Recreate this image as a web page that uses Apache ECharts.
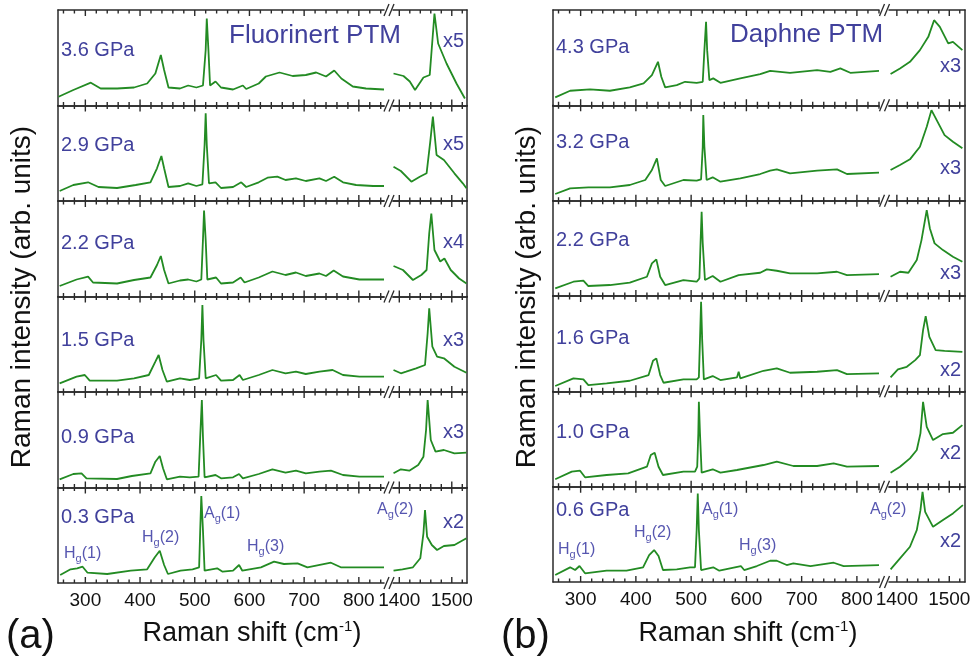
<!DOCTYPE html>
<html>
<head>
<meta charset="utf-8">
<title>Raman spectra under pressure</title>
<script src="https://cdn.jsdelivr.net/npm/echarts@6/dist/echarts.min.js"></script>
<style>
  html, body { margin: 0; padding: 0; background: #fff; }
  #chart { width: 976px; height: 668px; }
</style>
</head>
<body>
<div id="chart"></div>
<script>
// ---- data: [Raman shift (cm-1), intensity (arb.)] ----
// panel (a) Fluorinert PTM, top to bottom
var a36Low = [[251,8.8],[278,15.5],[310,22.8],[328,17],[358,17],[389,18],[413,22],[428,32],[438,50.5],[444,35.5],[452,18],[473,17],[488,20],[503,18],[515,20],[520,55.5],[522,87],[525,55.5],[528,20],[538,24],[548,18],[570,16],[588,20],[594,16.5],[617,22],[630,29],[655,33],[679,29.5],[703,30.5],[722,33],[740,29],[755,35],[768,27],[789,19],[813,17],[846,16]];
var a36High = [[1389,32],[1408,29.5],[1420,24],[1430,15.5],[1446,28],[1458,30.5],[1467,92],[1474,62],[1490,42],[1509,22],[1525,7]];
var a29Low = [[253,10],[278,16],[305,18.7],[324,14],[358,13],[392,16],[419,18.7],[431,32.7],[439,45],[444,32.7],[452,14],[473,15],[488,17.7],[503,15],[514,16.7],[518,56],[520,87.7],[522,56],[526,17.7],[538,18.7],[548,13],[570,14],[585,18.7],[594,14],[617,18.7],[633,23.3],[651,24.3],[666,21],[685,22.7],[703,20],[728,22.7],[740,20],[755,24.3],[771,18.7],[795,16],[826,15],[846,15]];
var a29High = [[1389,34.3],[1403,30],[1423,19.3],[1439,24.3],[1452,27.7],[1459,59.3],[1464,84.3],[1471,46],[1485,41],[1505,27.7],[1521,17.7],[1528,12.7]];
var a22Low = [[253,10.5],[284,17],[305,19.8],[314,14],[358,13],[389,16.5],[419,19],[431,31.5],[438,40.5],[444,26.5],[452,13],[473,16],[488,17],[503,15],[512,17],[515,56.5],[517,86],[520,56.5],[523,17],[539,19],[548,13],[570,14],[584,19],[591,14],[617,19],[642,25],[666,21.5],[685,24],[703,20.5],[728,23],[740,20.5],[754,26],[771,20],[801,17],[846,17]];
var a22High = [[1389,30.5],[1407,26.5],[1426,16.5],[1442,21.5],[1452,26.5],[1457,63],[1461,83],[1467,46.5],[1478,35],[1486,38],[1498,26.5],[1514,18],[1528,13]];
var a15Low = [[253,8.7],[284,15.3],[299,17],[308,11.3],[358,11.3],[389,13.7],[416,17],[428,30.3],[434,37],[441,22],[449,10.3],[473,13.7],[491,12],[508,13.7],[512,52],[514,87],[516,52],[520,13.7],[539,17],[548,11.3],[570,12],[582,17],[588,12],[617,17],[642,22],[666,18.7],[685,20.3],[703,18],[728,20.3],[752,22],[771,17],[801,15.3],[846,15.3]];
var a15High = [[1389,22],[1403,18.7],[1413,20.3],[1432,23.7],[1449,27],[1454,58.7],[1457,83.7],[1463,45.3],[1472,35.3],[1485,33.7],[1505,25.3],[1528,19.3]];
var a09Low = [[253,8.2],[278,13.5],[293,14.2],[302,9.2],[358,8.5],[385,11.5],[419,14.2],[428,25.8],[436,31.5],[442,19.2],[449,8.2],[473,10.8],[491,10.2],[507,10.8],[510,50.8],[513,87.5],[515,50.8],[518,10.2],[538,12.5],[548,9.2],[570,10.2],[581,13.5],[588,9.2],[617,13.5],[642,18.2],[666,14.8],[685,16.8],[703,14.2],[728,15.8],[749,16.8],[771,12.5],[801,10.8],[846,10.8]];
var a09High = [[1389,14.2],[1403,18.2],[1419,16.8],[1436,22.5],[1446,30.8],[1451,57.5],[1454,87.5],[1460,47.5],[1469,35.8],[1485,37.5],[1505,34.2],[1528,34.8]];
var a03Low = [[254,8],[273,13.7],[285,14.7],[295,16.3],[304,10.3],[340,9],[383,12.3],[413,13.7],[427,25.7],[436,32.3],[444,18],[451,9],[474,12.3],[496,13.7],[508,15.7],[510,53],[512,87],[515,53],[518,12.3],[541,14.7],[551,11.3],[570,12.3],[581,18],[587,12.3],[621,15.7],[645,21.3],[663,19],[688,19.7],[706,15.7],[749,20.3],[767,15.7],[803,15.7],[846,15.7]];
var a03High = [[1389,12.3],[1406,13.7],[1426,15.7],[1440,24.7],[1446,49.7],[1449,73],[1453,46.3],[1462,38],[1472,33],[1485,37],[1505,38],[1528,44.7]];

// panel (b) Daphne PTM, top to bottom
var b43Low = [[254,8],[281,14.6],[317,16],[353,14.6],[389,18],[414,22],[429,30.3],[440,43.6],[446,28.6],[453,18],[474,20.3],[489,23.6],[510,22.6],[521,23.6],[524,55.3],[527,83.6],[529,55.3],[533,25.3],[540,27],[553,22.6],[589,27],[625,31.3],[643,34.6],[679,32.6],[728,35.3],[752,33.6],[770,37],[788,32.6],[840,34.6]];
var b43High = [[1388,31.3],[1406,37],[1425,43.6],[1444,55.3],[1460,68.6],[1471,85.3],[1482,78.6],[1498,62],[1507,63.6],[1525,55.3]];
var b32Low = [[254,6.7],[281,12.4],[314,13.4],[353,13.4],[389,15.7],[417,20.7],[429,30.7],[438,42.4],[445,20.7],[453,14.7],[486,20.7],[510,20],[518,21.4],[521,54],[522,85.7],[524,54],[528,20.7],[539,23.4],[553,19],[589,22.4],[625,26.7],[643,30],[655,31.4],[679,27.4],[728,30],[764,31.4],[782,26.7],[840,28]];
var b32High = [[1388,30.7],[1406,35.7],[1425,41.4],[1444,54],[1457,74],[1466,90.7],[1476,80.7],[1491,65.7],[1507,59],[1525,52.4]];
var b22Low = [[254,7.7],[287,14.3],[305,15.3],[314,10],[353,11],[389,13.3],[420,19.3],[429,32.7],[437,36.7],[444,19.3],[453,11],[486,16],[510,14.3],[515,17.7],[517,52.7],[519,84.3],[521,52.7],[525,16],[539,20],[553,14.3],[586,21],[625,23.3],[637,26.7],[655,25.3],[679,22.7],[728,22.7],[764,24.3],[782,21],[840,22]];
var b22High = [[1388,19.3],[1406,24.3],[1422,23.3],[1438,36],[1447,56],[1457,86],[1463,67.7],[1472,52.7],[1488,46],[1507,39.3],[1525,34.3]];
var b16Low = [[254,5.3],[287,13],[305,12],[314,6.3],[347,8],[389,10.6],[423,16.3],[431,30.6],[437,33],[444,16.3],[450,8.6],[486,12],[510,12],[514,14],[516,51.3],[518,89.6],[520,51.3],[523,12],[539,15.3],[553,11.3],[583,14],[586,19.6],[589,13],[631,20.6],[655,23],[679,18.6],[728,19.6],[764,21.3],[782,17.3],[840,18]];
var b16High = [[1388,14],[1402,22],[1419,24.6],[1435,31.3],[1444,36.3],[1450,61.3],[1455,75.3],[1462,54.6],[1474,41.3],[1491,40.6],[1525,39.6]];
var b10Low = [[254,7.4],[284,15],[299,16],[308,9.4],[347,11.7],[386,13.4],[420,20],[427,31.7],[434,34],[441,20],[449,11.7],[486,15],[507,15],[511,20],[513,53.4],[514,85],[516,53.4],[519,14],[539,17.4],[553,14],[583,16.7],[631,21.7],[655,25],[685,20.7],[728,20.7],[758,23.4],[782,20],[840,20.7]];
var b10High = [[1388,14],[1406,20],[1425,28.4],[1438,36.7],[1445,53.4],[1450,85],[1457,60],[1469,46.7],[1488,52.7],[1507,54],[1525,61.7]];
var b06Low = [[254,7],[281,14.7],[290,12],[298,16],[308,8.7],[347,11.3],[383,11.3],[413,14.7],[424,27],[433,32],[441,26],[449,12],[474,12.7],[498,14.7],[507,14.7],[510,52],[512,88.7],[514,52],[518,12],[540,14.7],[551,11.3],[590,16],[596,12],[619,16],[643,21.3],[655,21.3],[673,17],[685,18.7],[716,16],[758,19.3],[776,16],[840,17]];
var b06High = [[1388,12.7],[1406,23.7],[1425,35.3],[1438,52],[1445,72],[1449,90.3],[1454,70.3],[1469,55.3],[1488,62],[1507,68.7],[1526,77]];

var pressuresA = ['3.6 GPa', '2.9 GPa', '2.2 GPa', '1.5 GPa', '0.9 GPa', '0.3 GPa'];
var factorsA = ['x5', 'x5', 'x4', 'x3', 'x3', 'x2'];
var pressuresB = ['4.3 GPa', '3.2 GPa', '2.2 GPa', '1.6 GPa', '1.0 GPa', '0.6 GPa'];
var factorsB = ['x3', 'x3', 'x3', 'x2', 'x2', 'x2'];
var peakNames = ['H|g|(1)', 'H|g|(2)', 'A|g|(1)', 'H|g|(3)', 'A|g|(2)'];

var lowMajor = [300, 400, 500, 600, 700, 800];
var lowMinor = [260, 280, 320, 340, 360, 380, 420, 440, 460, 480, 520, 540, 560, 580, 620, 640, 660, 680, 720, 740, 760, 780, 820, 840];
var highMajor = [1400, 1500];
var highMinor = [1420, 1440, 1460, 1480, 1520];

// ---- layout ----
var FONT = '"Liberation Sans", Arial, Helvetica, sans-serif';
var GREEN = '#238b23';
var AXIS = '#2a2a2a';
var BLUE = '#41419c';
var BLUE2 = '#5656b0';
var YMAX = 95.5;
var MAJOR_LEN = 6, MINOR_LEN = 3.5;

var panels = [
  {
    left: 58, lowEnd: 384, highStart: 393, right: 467, top: 10, bottom: 583,
    lowRange: [250, 846], highRange: [1388, 1529], slash: [386.5, 391.5],
    spectra: [[a36Low, a36High], [a29Low, a29High], [a22Low, a22High], [a15Low, a15High], [a09Low, a09High], [a03Low, a03High]],
    pressures: pressuresA, factors: factorsA,
    pressY: [50.5, 145, 243, 340, 437, 517], factY: [41.5, 144, 242.5, 340, 432, 522], factX: 464,
    ptm: 'Fluorinert PTM', ptmX: 229, ptmY: 36,
    peakPos: [[64, 554], [142, 538], [204, 514], [247, 547], [377, 510]],
    tag: '(a)', tagX: 6, titleX: 252, yTitleX: 22
  },
  {
    left: 553, lowEnd: 879, highStart: 889, right: 965, top: 10, bottom: 582,
    lowRange: [250, 840], highRange: [1385, 1530], slash: [882, 887],
    spectra: [[b43Low, b43High], [b32Low, b32High], [b22Low, b22High], [b16Low, b16High], [b10Low, b10High], [b06Low, b06High]],
    pressures: pressuresB, factors: factorsB,
    pressY: [47.5, 142.5, 240, 338, 432, 510], factY: [66.7, 168, 273, 370.5, 453, 541.7], factX: 961,
    ptm: 'Daphne PTM', ptmX: 730, ptmY: 35,
    peakPos: [[558, 550], [634, 533], [702, 510], [739, 546], [870, 510]],
    tag: '(b)', tagX: 501, titleX: 748, yTitleX: 527
  }
];

var grids = [], xAxes = [], yAxes = [], series = [], graphics = [];

function frameX(gi, pos, range, labels) {
  return {
    type: 'value', gridIndex: gi, position: pos, min: range[0], max: range[1],
    axisLine: { show: true, onZero: false, lineStyle: { color: AXIS, width: 1.5 } },
    axisTick: { show: false },
    axisLabel: {
      show: !!labels, customValues: labels || undefined, margin: 8,
      color: '#111', fontSize: 19, fontFamily: FONT,
      formatter: function (v) { return String(v); }
    },
    splitLine: { show: false }
  };
}

function text(x, y, str, size, color, align, extra) {
  var el = {
    type: 'text', x: x, y: y, silent: true,
    style: { text: str, fontSize: size, fontFamily: FONT, fill: color, align: align, textAlign: align, verticalAlign: 'middle', textVerticalAlign: 'middle' }
  };
  if (extra) { for (var k in extra) { el.style[k] = extra[k]; } }
  return el;
}

// inward tick segments along the bottom and top frame, in data units of the grid
function tickSegments(minor, major) {
  var out = [];
  [[minor, MINOR_LEN], [major, MAJOR_LEN]].forEach(function (set) {
    set[0].forEach(function (v) {
      out.push([v, 0], [v, set[1]], '-');
      out.push([v, YMAX], [v, YMAX - set[1]], '-');
    });
  });
  return out;
}

panels.forEach(function (p) {
  var h = (p.bottom - p.top) / 6;
  for (var i = 0; i < 6; i++) {
    var top = p.top + i * h;
    var segs = [
      { left: p.left, width: p.lowEnd - p.left, range: p.lowRange, major: lowMajor, minor: lowMinor, side: 'left' },
      { left: p.highStart, width: p.right - p.highStart, range: p.highRange, major: highMajor, minor: highMinor, side: 'right' }
    ];
    segs.forEach(function (s, si) {
      var gi = grids.length;
      grids.push({ left: s.left, top: top, width: s.width, height: h });
      var xi = xAxes.length;
      xAxes.push(frameX(gi, 'bottom', s.range, i === 5 ? s.major : null));
      xAxes.push(frameX(gi, 'top', s.range, null));
      yAxes.push({
        type: 'value', gridIndex: gi, position: s.side, min: 0, max: YMAX,
        axisLine: { show: true, onZero: false, lineStyle: { color: AXIS, width: 1.5 } },
        axisTick: { show: false }, axisLabel: { show: false }, splitLine: { show: false }
      });
      series.push({
        type: 'line', xAxisIndex: xi, yAxisIndex: gi, data: p.spectra[i][si],
        symbol: 'none', showSymbol: false, silent: true, clip: true,
        lineStyle: { color: GREEN, width: 1.8 }, z: 3
      });
      series.push({
        type: 'line', xAxisIndex: xi, yAxisIndex: gi, data: tickSegments(s.minor, s.major),
        symbol: 'none', showSymbol: false, silent: true, clip: false, connectNulls: false,
        lineStyle: { color: AXIS, width: 1.4 }, z: 4
      });
    });
    graphics.push(text(p.left + 3, p.pressY[i], p.pressures[i], 20, BLUE, 'left'));
    graphics.push(text(p.factX, p.factY[i], p.factors[i], 20, BLUE, 'right'));
  }
  // break marks on every horizontal frame line
  for (var k = 0; k <= 6; k++) {
    var y = p.top + k * h;
    p.slash.forEach(function (cx) {
      graphics.push({ type: 'line', silent: true, shape: { x1: cx - 2.5, y1: y + 6, x2: cx + 2.5, y2: y - 6 }, style: { stroke: AXIS, lineWidth: 1.3 } });
    });
  }
  graphics.push(text(p.ptmX, p.ptmY, p.ptm, 26, BLUE, 'left'));
  peakNames.forEach(function (nm, j) {
    var parts = nm.split('|');
    graphics.push(text(p.peakPos[j][0], p.peakPos[j][1], '{m|' + parts[0] + '}{s|' + parts[1] + '}{m|' + parts[2] + '}', 16, BLUE2, 'left', {
      rich: {
        m: { fontSize: 16, fontFamily: FONT, fill: BLUE2 },
        s: { fontSize: 11, fontFamily: FONT, fill: BLUE2, padding: [10, 0, 0, 0] }
      }
    }));
  });
  graphics.push(text(p.titleX, 634, '{m|Raman shift (cm}{p|-1}{m|)}', 27, '#111', 'center', {
    rich: {
      m: { fontSize: 27, fontFamily: FONT, fill: '#111' },
      p: { fontSize: 15, fontFamily: FONT, fill: '#111', padding: [0, 0, 14, 0] }
    }
  }));
  graphics.push(text(p.tagX, 637, p.tag, 40, '#111', 'left'));
  var yt = text(p.yTitleX, 297, 'Raman intensity (arb. units)', 28, '#111', 'center');
  yt.rotation = Math.PI / 2;
  graphics.push(yt);
});

var chart = echarts.init(document.getElementById('chart'));
chart.setOption({
  animation: false,
  backgroundColor: '#fff',
  grid: grids,
  xAxis: xAxes,
  yAxis: yAxes,
  series: series,
  graphic: { elements: graphics }
});
</script>
</body>
</html>
